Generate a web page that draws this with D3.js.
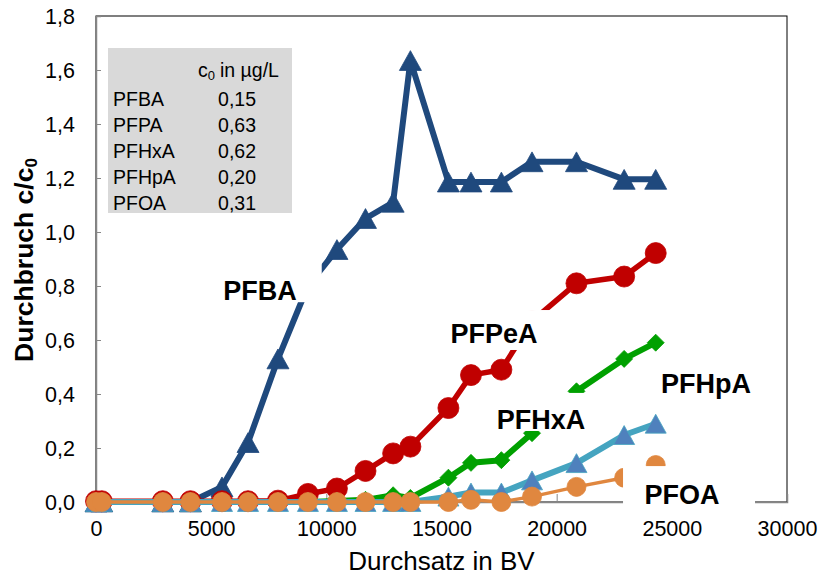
<!DOCTYPE html>
<html>
<head>
<meta charset="utf-8">
<script src="https://cdn.jsdelivr.net/npm/d3@7"></script>
<style>
  body { margin: 0; background: #fff; }
  text { font-family: "Liberation Sans", Arial, sans-serif; }
</style>
</head>
<body>
<div id="chart"></div>
<script>
// Breakthrough curves, c/c0 vs. bed volumes

// data
let bv = [0, 250, 2900, 4100, 5470, 6600, 7900, 9200, 10460, 11700, 12900, 13650,
  15300, 16280, 17600, 18930, 20860, 22930, 24300];
let pfba = [0, 0, 0, 0, 0.056, 0.22, 0.53, 0.80, 0.935, 1.05, 1.11, 1.635,
  1.185, 1.185, 1.185, 1.26, 1.26, 1.195, 1.195];
let pfpea = [0.003, 0.003, 0.003, 0.003, 0.003, 0.003, 0.005, 0.03, 0.05, 0.115, 0.18, 0.205,
  0.348, 0.47, 0.49, 0.67, 0.81, 0.835, 0.922];
let pfhxa = [0, 0, 0, 0, 0, 0, 0, 0, 0.004, 0.008, 0.025, 0.015,
  0.09, 0.145, 0.155, 0.255, 0.41, 0.53, 0.59];
let pfhpa = [0, 0, 0, 0, 0, 0, 0, 0, 0, 0, 0, 0,
  0.02, 0.035, 0.035, 0.08, 0.144, 0.248, 0.29];
let pfoa = [0, 0, 0, 0, 0, 0, 0, 0, 0, 0, 0, 0,
  0, 0.008, 0, 0.02, 0.056, 0.09, 0.137];

let xTicks = [0, 5000, 10000, 15000, 20000, 25000, 30000];
let yTicks = [0, 0.2, 0.4, 0.6, 0.8, 1.0, 1.2, 1.4, 1.6, 1.8];

let tableHead = 'in µg/L';
let tableNames = ['PFBA', 'PFPA', 'PFHxA', 'PFHpA', 'PFOA'];
let tableValues = ['0,15', '0,63', '0,62', '0,20', '0,31'];

// series look
let series = [
  { name: 'PFBA', values: pfba, line: '#1F497D', fill: '#1F497D', width: 6, shape: 'triangle', size: 22 },
  { name: 'PFPeA', values: pfpea, line: '#C00000', fill: '#C00000', width: 5.5, shape: 'circle', size: 21 },
  { name: 'PFHxA', values: pfhxa, line: '#00A000', fill: '#00A000', width: 6, shape: 'diamond', size: 17 },
  { name: 'PFHpA', values: pfhpa, line: '#45A4C0', fill: '#4F81BD', width: 6, shape: 'triangle', size: 21 },
  { name: 'PFOA', values: pfoa, line: '#E0873F', fill: '#E0873F', width: 3.5, shape: 'circle', size: 19 }
];

// series labels (white boxes), in data units
let labels = [
  { text: 'PFBA', x: 7120, y: 0.748, box: [5150, 9800, 0.74, 0.885] },
  { text: 'PFPeA', x: 17280, y: 0.589, box: [14935, 19711, 0.563, 0.711] },
  { text: 'PFHxA', x: 19320, y: 0.27, box: [16932, 21708, 0.263, 0.404] },
  { text: 'PFHpA', x: 26484, y: 0.404, box: [24270, 28829, 0.37, 0.519] },
  { text: 'PFOA', x: 25442, y: -0.007, box: [22881, 28612, -0.041, 0.133] }
];

let svgWidth = 823;
let svgHeight = 578;
let margin = { top: 16, right: 36, bottom: 76, left: 96 };
let width = svgWidth - margin.left - margin.right;
let height = svgHeight - margin.top - margin.bottom;

let svg = d3.select('#chart').append('svg')
  .attr('width', svgWidth)
  .attr('height', svgHeight);

let g = svg.append('g')
  .attr('transform', `translate(${margin.left}, ${margin.top})`);

let x = d3.scaleLinear().domain([0, 30000]).range([0, width]);
let y = d3.scaleLinear().domain([0, 1.8]).range([height, 0]);

let comma = d => d3.format('.1f')(d).replace('.', ',');

// plot frame
g.append('rect')
  .attr('width', width)
  .attr('height', height)
  .attr('fill', 'none')
  .attr('stroke', '#000')
  .attr('stroke-width', 1);

// axes with inside ticks
let xAxis = g.append('g')
  .attr('transform', `translate(0, ${height})`)
  .call(d3.axisBottom(x).tickValues(xTicks).tickSize(-8).tickPadding(14).tickFormat(d3.format('d')));
let yAxis = g.append('g')
  .call(d3.axisLeft(y).tickValues(yTicks).tickSize(-5).tickPadding(21).tickFormat(comma));

[xAxis, yAxis].forEach(a => {
  a.select('.domain').attr('stroke', '#868686').attr('stroke-width', 1.5);
  a.selectAll('.tick line').attr('stroke', '#868686');
  a.selectAll('.tick text')
    .attr('fill', '#000')
    .style('font-family', '"Liberation Sans", Arial, sans-serif')
    .style('font-size', '21.5px');
});
xAxis.selectAll('.tick text').attr('dy', '0.95em');
yAxis.selectAll('.tick text').attr('dy', '0.36em');

// axis titles
svg.append('text')
  .attr('x', margin.left + width / 2)
  .attr('y', 570)
  .attr('text-anchor', 'middle')
  .style('font-size', '26px')
  .text('Durchsatz in BV');

let yTitle = svg.append('text')
  .attr('transform', `translate(33, 260) rotate(-90)`)
  .attr('text-anchor', 'middle')
  .style('font-size', '26.5px')
  .style('font-weight', 'bold');
yTitle.append('tspan').text('Durchbruch c/c');
yTitle.append('tspan').attr('baseline-shift', '-22%').style('font-size', '17px').text('0');

// concentration table
let table = g.append('g')
  .attr('transform', `translate(${108 - margin.left}, ${48 - margin.top})`);
table.append('rect')
  .attr('width', 184)
  .attr('height', 165)
  .attr('fill', '#D9D9D9');
let head = table.append('text')
  .attr('x', 90)
  .attr('y', 29)
  .style('font-size', '19.5px');
head.append('tspan').text('c');
head.append('tspan').attr('baseline-shift', '-25%').style('font-size', '13px').text('0');
head.append('tspan').attr('dx', 5).text(tableHead);

table.selectAll('.tname')
  .data(tableNames)
  .enter()
  .append('text')
  .classed('tname', true)
  .attr('x', 5)
  .attr('y', (d, i) => 57.5 + i * 26)
  .style('font-size', '19.5px')
  .text(d => d);

table.selectAll('.tval')
  .data(tableValues)
  .enter()
  .append('text')
  .classed('tval', true)
  .attr('x', 148)
  .attr('y', (d, i) => 57.5 + i * 26)
  .attr('text-anchor', 'end')
  .style('font-size', '19.5px')
  .text(d => d);

// marker shapes
function markerPath(shape, s) {
  if (shape === 'circle') {
    let r = s / 2;
    return `M${-r},0A${r},${r} 0 1,0 ${r},0A${r},${r} 0 1,0 ${-r},0Z`;
  }
  if (shape === 'triangle') {
    let h = s * 0.9;
    return `M0,${-h / 2}L${s / 2},${h / 2}L${-s / 2},${h / 2}Z`;
  }
  let r = s / 2;
  return `M0,${-r}L${r},0L0,${r}L${-r},0Z`;
}

let line = d3.line()
  .x(d => x(d[0]))
  .y(d => y(d[1]));

series.forEach(s => {
  let pts = bv.map((b, i) => [b, s.values[i]]);
  let sg = g.append('g').classed('series', true);
  sg.append('path')
    .datum(pts)
    .attr('d', line)
    .attr('fill', 'none')
    .attr('stroke', s.line)
    .attr('stroke-width', s.width)
    .attr('stroke-linejoin', 'round');
  sg.selectAll('.marker')
    .data(pts)
    .enter()
    .append('path')
    .classed('marker', true)
    .attr('transform', d => `translate(${x(d[0])}, ${y(d[1])})`)
    .attr('d', markerPath(s.shape, s.size))
    .attr('fill', s.fill)
    .attr('stroke', s.line)
    .attr('stroke-width', 0.8);
});

// series labels on white boxes
labels.forEach(l => {
  g.append('rect')
    .attr('x', x(l.box[0]))
    .attr('y', y(l.box[3]))
    .attr('width', x(l.box[1]) - x(l.box[0]))
    .attr('height', y(l.box[2]) - y(l.box[3]))
    .attr('fill', '#fff');
  g.append('text')
    .attr('x', x(l.x))
    .attr('y', y(l.y))
    .attr('text-anchor', 'middle')
    .style('font-size', '27px')
    .style('font-weight', 'bold')
    .text(l.text);
});
</script>
</body>
</html>
